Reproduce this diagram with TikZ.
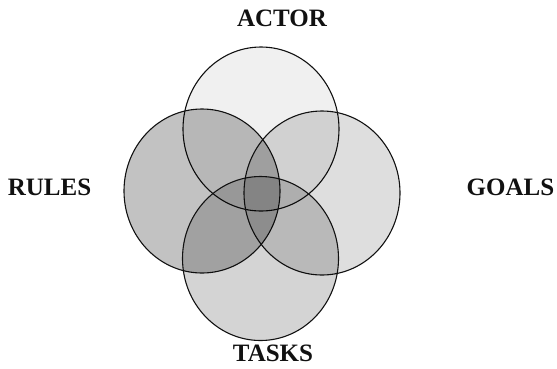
\documentclass[tikz,border=0pt]{standalone}
\usepackage{fontspec}
\setmainfont{Liberation Serif}
\usepackage{tikz}
\usepackage{xcolor}
\usetikzlibrary{positioning,shapes.geometric}
\definecolor{cInk}{HTML}{111111}
\tikzset{
  ring/.style={ellipse,draw=cInk,line width=1.1pt,fill=black,inner sep=0pt,
    minimum width=156pt,minimum height=164pt},
  tag/.style={font=\fontsize{25}{30}\selectfont\bfseries,text=cInk,inner sep=0pt},
}
\begin{document}
\begin{tikzpicture}[x=1pt,y=-1pt]
\useasboundingbox (0,0) rectangle (557,368);
\node[ring,fill opacity=0.06] (actor) at (261,129) {};
\node[ring,fill opacity=0.24] (rules) at (202,191) {};
\node[ring,fill opacity=0.13] (goals) at (322,193) {};
\node[ring,fill opacity=0.17] (tasks) at (260.5,258.5) {};
\node[tag] (lactor) at (282,18) {ACTOR};
\node[tag] (lrules) at (49.5,187) {RULES};
\node[tag] (lgoals) at (510.5,187) {GOALS};
\node[tag] (ltasks) at (273,353) {TASKS};
\end{tikzpicture}
\end{document}
